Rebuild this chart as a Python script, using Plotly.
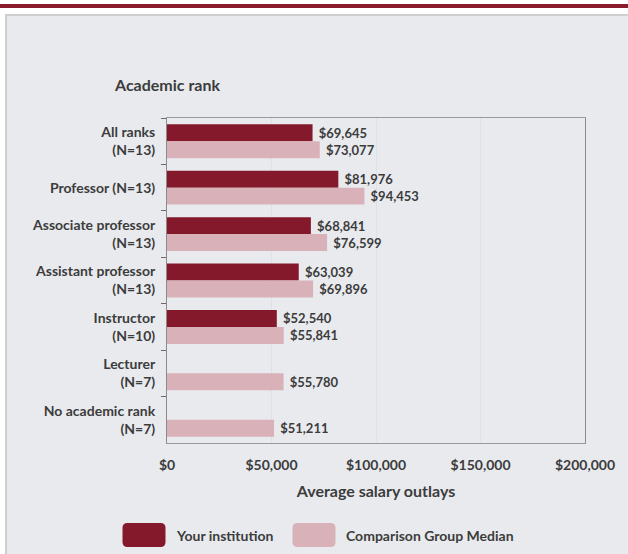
import plotly.graph_objects as go

categories = ["All ranks<br>(N=13)", "Professor (N=13)", "Associate professor<br>(N=13)",
              "Assistant professor<br>(N=13)", "Instructor<br>(N=10)", "Lecturer<br>(N=7)",
              "No academic rank<br>(N=7)"]
institution = [69645, 81976, 68841, 63039, 52540, None, None]
comparison = [73077, 94453, 76599, 69896, 55841, 55780, 51211]
x_ticks = [0, 50000, 100000, 150000, 200000]
x_ticklabels = ["$0", "$50,000", "$100,000", "$150,000", "$200,000"]

DARK = "#85192c"
LIGHT = "#d9b1b8"
TXT = "#3c3c3c"
FONT = "Lato"

W, H = 628, 554
L, R, T, B = 167, 43, 118, 111
PW, PH = W - L - R, H - T - B

def px(x):
    return (x - L) / PW

def py(y):
    return (H - B - y) / PH

fig = go.Figure()
fig.add_trace(go.Bar(
    y=categories, x=institution, orientation="h", name="Your institution",
    marker=dict(color=DARK, line=dict(width=0)),
    texttemplate=" $%{x:,.0f}", textposition="outside", cliponaxis=False,
    textfont=dict(color=TXT, size=13, family=FONT, weight="bold"),
))
fig.add_trace(go.Bar(
    y=categories, x=comparison, orientation="h", name="Comparison Group Median",
    marker=dict(color=LIGHT, line=dict(width=0)),
    texttemplate=" $%{x:,.0f}", textposition="outside", cliponaxis=False,
    textfont=dict(color=TXT, size=13, family=FONT, weight="bold"),
))

shapes = [
    # panel
    dict(type="rect", xref="paper", yref="paper", x0=px(6), x1=px(660), y0=py(580), y1=py(15),
         fillcolor="#e9eaee", line=dict(color="#cfcfcf", width=2), layer="below"),
    # top bar
    dict(type="rect", xref="paper", yref="paper", x0=px(-10), x1=px(640), y0=py(8), y1=py(4),
         fillcolor="#8a1a2e", line=dict(width=0), layer="below"),
]

def rounded(cx, cy, w, h, r, color):
    hw, hh = w / 2, h / 2
    path = (f"M {-hw + r},{-hh} L {hw - r},{-hh} Q {hw},{-hh} {hw},{-hh + r} "
            f"L {hw},{hh - r} Q {hw},{hh} {hw - r},{hh} L {-hw + r},{hh} "
            f"Q {-hw},{hh} {-hw},{hh - r} L {-hw},{-hh + r} Q {-hw},{-hh} {-hw + r},{-hh} Z")
    return dict(type="path", xref="paper", yref="paper", xsizemode="pixel", ysizemode="pixel",
                xanchor=px(cx), yanchor=py(cy), path=path, fillcolor=color,
                line=dict(width=0), layer="above")

shapes.append(rounded(144, 535, 43, 24, 5, DARK))
shapes.append(rounded(314, 535, 43, 24, 5, LIGHT))

annotations = [
    dict(text="Academic rank", xref="paper", yref="paper", x=px(112), y=py(85),
         xanchor="left", yanchor="middle", showarrow=False,
         font=dict(size=16, color=TXT, family=FONT, weight="bold")),
    dict(text="Your institution", xref="paper", yref="paper", x=px(174), y=py(535),
         xanchor="left", yanchor="middle", showarrow=False,
         font=dict(size=14, color=TXT, family=FONT, weight="bold")),
    dict(text="Comparison Group Median", xref="paper", yref="paper", x=px(344), y=py(535),
         xanchor="left", yanchor="middle", showarrow=False,
         font=dict(size=14, color=TXT, family=FONT, weight="bold")),
]

fig.update_layout(
    width=W, height=H,
    margin=dict(l=L, r=R, t=T, b=B, autoexpand=False),
    paper_bgcolor="white", plot_bgcolor="#f4f4f4",
    barmode="group", bargap=0.27, bargroupgap=0.0,
    showlegend=False,
    shapes=shapes, annotations=annotations,
    font=dict(family=FONT, color=TXT, size=14),
    xaxis=dict(range=[0, 200000], tickvals=x_ticks, ticktext=x_ticklabels,
               showgrid=True, gridcolor="#dbe2ee", gridwidth=1, zeroline=False,
               showline=True, linecolor="#9a9a9a", linewidth=1, mirror=True,
               ticks="", ticklabelstandoff=9,
               tickfont=dict(size=14, color=TXT, family=FONT, weight="bold"),
               title=dict(text="Average salary outlays", standoff=14,
                          font=dict(size=16, color=TXT, family=FONT, weight="bold")),
               fixedrange=True),
    yaxis=dict(autorange="reversed", type="category", showgrid=False, zeroline=False,
               showline=True, linecolor="#8a8a8a", linewidth=1, mirror=True,
               ticks="outside", tickson="boundaries", ticklen=5, tickcolor="#6a6a6a",
               ticklabelstandoff=8,
               tickfont=dict(size=14, color=TXT, family=FONT, weight="bold"),
               fixedrange=True),
)

fig.write_html("out.html", config={"displayModeBar": False},
               post_script="document.body.style.margin='0';")
